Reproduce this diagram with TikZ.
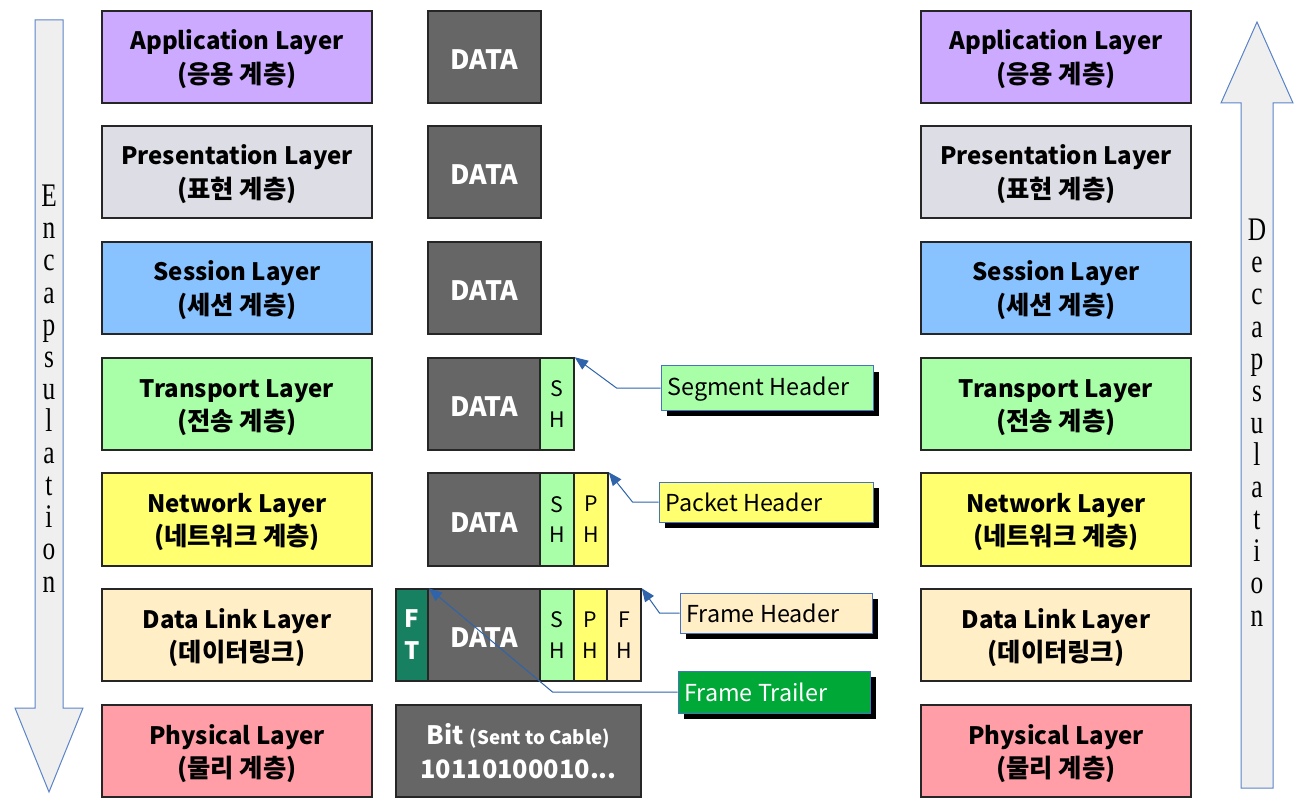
\documentclass[tikz,border=0pt]{standalone}
\usepackage{fontspec}
\usepackage{graphicx}
\setmainfont{Noto Sans CJK KR}
\newfontfamily\serifletters{Liberation Serif}
\usetikzlibrary{arrows.meta,shadows}
\definecolor{appc}{HTML}{CCAAFF}
\definecolor{presc}{HTML}{DDDDE6}
\definecolor{sessc}{HTML}{88C2FF}
\definecolor{transc}{HTML}{A8FFA8}
\definecolor{netc}{HTML}{FFFF70}
\definecolor{linkc}{HTML}{FFEEC6}
\definecolor{physc}{HTML}{FF9EA6}
\definecolor{datagray}{HTML}{666666}
\definecolor{ftc}{HTML}{168060}
\definecolor{trailc}{HTML}{00A838}
\definecolor{calloutblue}{HTML}{4472C4}
\definecolor{connblue}{HTML}{2F64AA}
\definecolor{arrowgray}{HTML}{EFEFEF}
\definecolor{arrowedge}{HTML}{5B85C8}
\newcommand\twolines[2]{\begin{tabular}{@{}c@{}}\rule{0pt}{22pt}#1\\{\fontsize{19}{24}\selectfont #2}\end{tabular}}
\begin{document}
\begin{tikzpicture}[x=0.75pt,y=-0.75pt,
  corners/.style args={#1/#2/#3/#4}{at={({(#1+#3)/2},{(#2+#4)/2})}, anchor=center,
    minimum width={(#3-#1)*0.75pt}, minimum height={(#4-#2)*0.75pt}},
  layer/.style={draw=black!85, line width=1.1pt, inner sep=0pt, align=center,
    font=\bfseries\fontsize{18}{25}\selectfont},
  datab/.style={draw=black!85, line width=1.1pt, fill=datagray, text=white, inner sep=0pt,
    align=center, font=\bfseries\fontsize{20}{23}\selectfont, execute at begin node={\rule{0pt}{19pt}}},
  hdr/.style={draw=black!85, line width=1.1pt, inner sep=0pt, align=center,
    font=\fontsize{16}{23}\selectfont},
  callout/.style={draw=calloutblue, line width=0.75pt, inner sep=0pt,
    drop shadow={shadow xshift=4.5pt, shadow yshift=-4.5pt, opacity=1, fill=black}},
  callouttext/.style={anchor=west, inner sep=0pt, font=\fontsize{17.5}{20}\selectfont},
  conn/.style={draw=connblue, line width=0.75pt, -{Triangle[length=10pt,width=8pt]}},
  bigarrow/.style={fill=arrowgray, draw=arrowedge, line width=0.75pt},
  letters/.style={inner sep=0pt, font=\serifletters\fontsize{19}{18.5}\selectfont}
]
\fill[white] (0,0) rectangle (1307,809);
\useasboundingbox (0,0) rectangle (1307,809);

% big arrows
\draw[bigarrow] (35,20) -- (63,20) -- (63,708) -- (83,708) -- (49,792) -- (15,708) -- (35,708) -- cycle;
\draw[bigarrow] (1241,788) -- (1241,103) -- (1221,103) -- (1257,22) -- (1293,103) -- (1273,103) -- (1273,788) -- cycle;
\node[letters] (enc) at (49,393) {\scalebox{1}[1.3]{\begin{tabular}{@{}c@{}}E\\n\\c\\a\\p\\s\\u\\l\\a\\t\\i\\o\\n\end{tabular}}};
\node[letters] (dec) at (1257,427) {\scalebox{1}[1.3]{\begin{tabular}{@{}c@{}}D\\e\\c\\a\\p\\s\\u\\l\\a\\t\\i\\o\\n\end{tabular}}};

% left layers
\node[layer, fill=appc,   corners=102/11/372/103]  (lapp)  {\twolines{Application Layer}{(응용 계층)}};
\node[layer, fill=presc,  corners=102/126/372/218] (lpres) {\twolines{Presentation Layer}{(표현 계층)}};
\node[layer, fill=sessc,  corners=102/242/372/334] (lsess) {\twolines{Session Layer}{(세션 계층)}};
\node[layer, fill=transc, corners=102/358/372/450] (ltran) {\twolines{Transport Layer}{(전송 계층)}};
\node[layer, fill=netc,   corners=102/473/372/566] (lnet)  {\twolines{Network Layer}{(네트워크 계층)}};
\node[layer, fill=linkc,  corners=102/589/372/681] (llink) {\twolines{Data Link Layer}{(데이터링크)}};
\node[layer, fill=physc,  corners=102/705/372/797] (lphys) {\twolines{Physical Layer}{(물리 계층)}};

% right layers
\node[layer, fill=appc,   corners=921/11/1191/103]  (rapp)  {\twolines{Application Layer}{(응용 계층)}};
\node[layer, fill=presc,  corners=921/126/1191/218] (rpres) {\twolines{Presentation Layer}{(표현 계층)}};
\node[layer, fill=sessc,  corners=921/242/1191/334] (rsess) {\twolines{Session Layer}{(세션 계층)}};
\node[layer, fill=transc, corners=921/358/1191/450] (rtran) {\twolines{Transport Layer}{(전송 계층)}};
\node[layer, fill=netc,   corners=921/473/1191/566] (rnet)  {\twolines{Network Layer}{(네트워크 계층)}};
\node[layer, fill=linkc,  corners=921/589/1191/681] (rlink) {\twolines{Data Link Layer}{(데이터링크)}};
\node[layer, fill=physc,  corners=921/705/1191/797] (rphys) {\twolines{Physical Layer}{(물리 계층)}};

% data units
\node[datab, corners=428/11/541/103]  (d1) {DATA};
\node[datab, corners=428/126/541/218] (d2) {DATA};
\node[datab, corners=428/242/541/334] (d3) {DATA};

\node[datab, corners=428/358/540/450] (d4) {DATA};
\node[hdr, fill=transc, corners=540/358/574/450] (sh4) {S\\H};

\node[datab, corners=428/473/540/566] (d5) {DATA};
\node[hdr, fill=transc, corners=540/473/574/566] (sh5) {S\\H};
\node[hdr, fill=netc,   corners=574/473/608/566] (ph5) {P\\H};

\node[datab, fill=ftc, font=\bfseries\fontsize{18}{24}\selectfont, corners=396/589/428/681] (ft6) {F\\T};
\node[datab, corners=428/589/540/681] (d6) {DATA};
\node[hdr, fill=transc, corners=540/589/574/681] (sh6) {S\\H};
\node[hdr, fill=netc,   corners=574/589/607/681] (ph6) {P\\H};
\node[hdr, fill=linkc,  corners=607/589/641/681] (fh6) {F\\H};

\node[datab, font=\bfseries\fontsize{19}{25}\selectfont, corners=396/705/641/797] (bits) {Bit {\fontsize{14}{16}\selectfont (Sent to Cable)}\\10110100010...};

% callouts
\node[callout, fill=transc, corners=661/366/873/410] (cseg) {};
\node[callouttext] at ([xshift=5pt,yshift=-1pt]cseg.west) {Segment Header};
\node[callout, fill=netc, corners=659/482/873/522] (cpkt) {};
\node[callouttext] at ([xshift=5pt]cpkt.west) {Packet Header};
\node[callout, fill=linkc, corners=680/593/872/633] (cfh) {};
\node[callouttext] at ([xshift=5pt]cfh.west) {Frame Header};
\node[callout, fill=trailc, corners=678/671/870/713] (cft) {};
\node[callouttext, text=white] at ([xshift=5pt]cft.west) {Frame Trailer};

% connectors
\draw[conn] (cseg.west) -- ++(-44,0) -- (sh4.north east);
\draw[conn] (cpkt.west) -- ++(-26,0) -- (ph5.north east);
\draw[conn] (cfh.west) -- ++(-20,0) -- (fh6.north east);
\draw[conn] (cft.west) -- ++(-125,0) -- (ft6.north east);
\end{tikzpicture}
\end{document}
